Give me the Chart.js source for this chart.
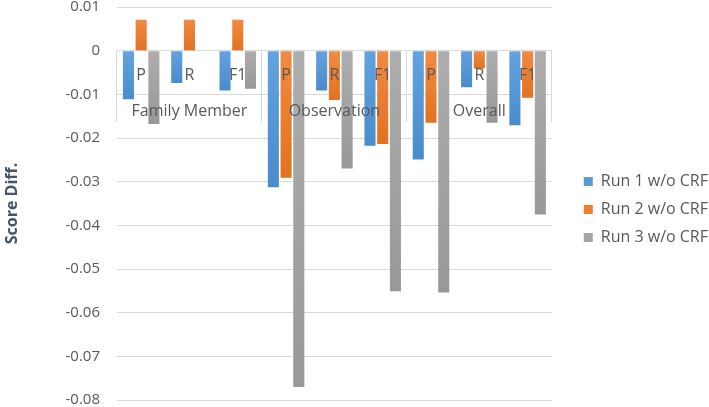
<!DOCTYPE html>
<html>
<head>
<meta charset="utf-8">
<script src="https://cdn.jsdelivr.net/npm/chart.js@4/dist/chart.umd.min.js"></script>
<style>
html,body{margin:0;padding:0;background:#fff;}
#wrap{width:709px;height:407px;position:relative;}
</style>
</head>
<body>
<div id="wrap"><canvas id="c" width="709" height="407"></canvas></div>
<script>
// Categories
const metricLabels = ['P', 'R', 'F1', 'P', 'R', 'F1', 'P', 'R', 'F1'];
const groupLabels = ['Family Member', 'Observation', 'Overall'];
const seriesNames = ['Run 1 w/o CRF', 'Run 2 w/o CRF', 'Run 3 w/o CRF'];
// Series values (score difference)
const run1 = [-0.0111, -0.0074, -0.0091, -0.0313, -0.0091, -0.0218, -0.0249, -0.0084, -0.0171];
const run2 = [0.0071, 0.0071, 0.0071, -0.0291, -0.0113, -0.0214, -0.0165, -0.0041, -0.0108];
const run3 = [-0.0168, 0, -0.0087, -0.0770, -0.0270, -0.0551, -0.0554, -0.0165, -0.0375];
// Y axis range
const yMin = -0.08, yMax = 0.01, yStep = 0.01;

const textColor = '#595959';
const gridColor = '#D9D9D9';
const FONT = "'Open Sans', sans-serif";

function barGradient(light, dark, solid) {
  return function(ctx) {
    const chart = ctx.chart;
    if (!chart.chartArea || ctx.type !== 'data') return solid;
    const ys = chart.scales.y;
    const v = ctx.raw;
    const p0 = ys.getPixelForValue(0);
    const p1 = ys.getPixelForValue(v);
    const top = Math.min(p0, p1), bot = Math.max(p0, p1);
    if (bot - top < 1) return solid;
    const g = chart.ctx.createLinearGradient(0, top, 0, bot);
    g.addColorStop(0, light);
    g.addColorStop(1, dark);
    return g;
  };
}

// nudge the legend box away from the plot area (layout only)
const legendGap = {
  id: 'legendGap',
  afterLayout(chart) {
    const lg = chart.legend;
    if (lg) { lg.left += 20; lg.right += 20; lg.top += 6; lg.bottom += 6; }
  }
};

const chart = new Chart(document.getElementById('c'), {
  type: 'bar',
  data: {
    labels: metricLabels,
    datasets: [
      { label: seriesNames[0], data: run1, backgroundColor: barGradient('#62A3DE', '#4A8BCB', '#5B9BD5') },
      { label: seriesNames[1], data: run2, backgroundColor: barGradient('#F28A42', '#E27220', '#ED7D31') },
      { label: seriesNames[2], data: run3, backgroundColor: barGradient('#ADADAD', '#989898', '#A5A5A5') }
    ]
  },
  plugins: [legendGap],
  options: {
    responsive: false,
    animation: false,
    categoryPercentage: 0.79,
    barPercentage: 0.87,
    layout: { padding: { left: 0, right: 11, top: 7, bottom: 7 } },
    plugins: {
      legend: {
        position: 'right',
        labels: {
          boxWidth: 9, boxHeight: 9, padding: 12,
          color: textColor,
          font: { family: FONT, size: 16 },
          generateLabels: function(chart) {
            const solid = ['#5B9BD5', '#ED7D31', '#A5A5A5'];
            return chart.data.datasets.map((ds, i) => ({
              text: ds.label, fillStyle: solid[i], strokeStyle: solid[i], lineWidth: 0,
              hidden: false, datasetIndex: i, fontColor: textColor
            }));
          }
        }
      },
      tooltip: { enabled: false }
    },
    scales: {
      y: {
        min: yMin, max: yMax,
        ticks: {
          stepSize: yStep, padding: 17, color: textColor,
          font: { family: FONT, size: 15 },
          callback: v => String(Number(v.toFixed(2)))
        },
        grid: { color: gridColor, drawTicks: false, lineWidth: 1 },
        border: { display: false },
        title: {
          display: true, text: 'Score Diff.', color: '#44546A',
          font: { family: FONT, size: 16, weight: 'bold' }, padding: { top: 3, bottom: 4 }
        },
        afterFit: s => { s.width = 117; s.paddingTop = 0; s.paddingBottom = 0; }
      },
      x: {
        type: 'category',
        position: { y: 0 },
        offset: true,
        grid: { display: false, drawTicks: false, drawOnChartArea: false },
        border: { display: false },
        ticks: {
          z: 1,
          autoSkip: false, maxRotation: 0, padding: 15, color: textColor,
          font: { family: FONT, size: 16 }
        }
      },
      x2: {
        type: 'category',
        labels: groupLabels,
        position: { y: 0 },
        offset: true,
        grid: { display: true, offset: true, drawOnChartArea: false, drawTicks: true, tickLength: 71, color: gridColor },
        border: { display: false },
        ticks: {
          z: 1,
          autoSkip: false, maxRotation: 0, padding: -20, color: textColor,
          font: { family: FONT, size: 16 }
        }
      }
    }
  }
});
</script>
</body>
</html>
